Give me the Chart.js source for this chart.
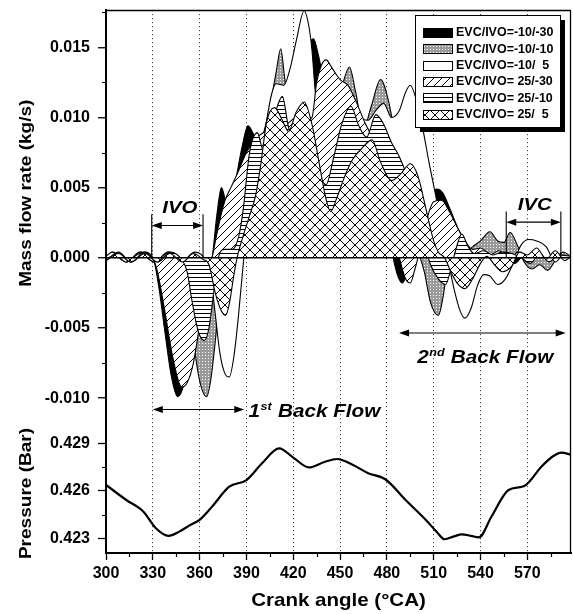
<!DOCTYPE html>
<html>
<head>
<meta charset="utf-8">
<title>Intake mass flow rate and pressure vs crank angle</title>
<script src="https://cdn.jsdelivr.net/npm/chart.js@4.4.1/dist/chart.umd.min.js"></script>
<style>
  html, body { margin: 0; padding: 0; background: #fff; }
  canvas { display: block; }
</style>
</head>
<body>
<canvas id="chart" width="573" height="614"></canvas>
<script>
// ---- series names (valve timing cases) ----
const caseLabels = ['EVC/IVO=-10/-30', 'EVC/IVO=-10/-10', 'EVC/IVO=-10/  5',
                    'EVC/IVO= 25/-30', 'EVC/IVO= 25/-10', 'EVC/IVO= 25/  5'];

// ---- intake mass flow rate (kg/s) against crank angle (deg CA) ----
const angleM10M30 = [300, 304, 313, 322, 330, 334, 338, 342, 346, 350, 355, 360, 364, 368, 371, 374, 378, 383, 387, 391,
  396, 402, 408, 414, 420, 426, 430, 433, 436, 440, 446, 453, 460, 467, 474, 480, 484, 487, 490, 493,
  497, 502, 507, 512, 516, 520, 526, 532, 538, 544, 550, 556, 562, 568, 574, 580, 586, 592, 598];
const flowM10M30 = [0.0000, 0.0004, -0.0003, 0.0004, 0.0000, -0.0022, -0.0055, -0.0085, -0.0099, -0.0090,
  -0.0060, -0.0030, -0.0012, 0.0000, 0.0030, 0.0050, 0.0036, 0.0055, 0.0078, 0.0094,
  0.0086, 0.0085, 0.0105, 0.0108, 0.0112, 0.0138, 0.0152, 0.0156, 0.0145, 0.0125,
  0.0118, 0.0110, 0.0095, 0.0075, 0.0050, 0.0022, 0.0000, -0.0013, -0.0018, -0.0011,
  0.0000, 0.0028, 0.0044, 0.0049, 0.0046, 0.0036, 0.0020, 0.0008, 0.0000, 0.0004,
  -0.0002, 0.0003, -0.0004, 0.0002, -0.0003, 0.0004, -0.0002, 0.0003, 0.0000];

const angleM10M10 = [300, 304, 313, 322, 331, 340, 348, 352, 355, 358, 361, 364.5, 367, 370, 373, 377, 382, 388, 394, 400,
  405, 409, 412, 414.5, 417, 424, 430, 436, 442, 448, 452, 456, 460, 465, 470, 476, 481, 486, 491, 496,
  500, 504, 508, 513, 516, 519, 523, 527, 531, 535, 540, 546, 551, 555, 559, 564, 568, 573, 578, 583,
  588, 593, 598];
const flowM10M10 = [-0.0001, 0.0003, -0.0003, 0.0004, -0.0003, 0.0004, -0.0002, -0.0015, -0.0045, -0.0075,
  -0.0092, -0.0099, -0.0088, -0.0060, -0.0025, 0.0005, 0.0030, 0.0052, 0.0070, 0.0085,
  0.0108, 0.0132, 0.0149, 0.0128, 0.0110, 0.0108, 0.0115, 0.0108, 0.0098, 0.0108,
  0.0125, 0.0136, 0.0118, 0.0092, 0.0108, 0.0127, 0.0112, 0.0082, 0.0050, 0.0022,
  0.0005, -0.0010, -0.0032, -0.0041, -0.0028, -0.0005, 0.0006, 0.0008, 0.0004, 0.0008,
  0.0012, 0.00185, 0.0012, 0.0011, 0.0018, 0.0008, -0.0003, -0.0008, -0.0005, -0.0009,
  -0.0002, 0.0004, 0.0001];

const angleM10P5 = [300, 304, 313, 322, 331, 340, 348, 357, 364, 367, 370, 373, 376, 379, 382, 385, 388, 392, 396, 401.5,
  406, 409, 414, 418, 422, 427, 430, 432, 434, 437, 441, 445, 449, 453, 458, 463, 468, 473, 478, 483,
  488, 492, 495, 499, 503, 507, 511, 515, 519, 523, 527, 530, 534, 538, 542, 546, 551, 556, 561, 566,
  571, 576, 582, 588, 593, 598];
const flowM10P5 = [0.0001, 0.0004, -0.0003, 0.0003, -0.0003, 0.0004, -0.0003, 0.0004, -0.0002, -0.0012,
  -0.0040, -0.0068, -0.0082, -0.0085, -0.0070, -0.0040, -0.0004, 0.0035, 0.0065, 0.0089,
  0.0116, 0.0124, 0.0123, 0.0135, 0.0155, 0.0176, 0.0165, 0.0148, 0.0120, 0.0095,
  0.0085, 0.0080, 0.0085, 0.0098, 0.0110, 0.0100, 0.0098, 0.0105, 0.0110, 0.0100,
  0.0105, 0.0118, 0.0123, 0.0112, 0.0092, 0.0068, 0.0046, 0.0022, 0.0000, -0.0022,
  -0.0038, -0.0043, -0.0036, -0.0020, -0.0012, -0.0013, -0.0019, -0.0015, -0.0004, 0.0009,
  0.0013, 0.0012, 0.0008, -0.0003, 0.0002, 0.0000];

const angleP25M30 = [300, 308, 316, 325, 330, 333, 338, 343, 348.5, 352, 356, 360, 364, 368, 372, 376, 380, 385, 390, 396,
  402, 408, 415, 422, 428, 432, 435, 438, 441, 445, 450, 455, 460, 466, 472, 478, 484, 488, 492, 495,
  498, 501, 505, 510, 515, 520, 525, 530, 535, 540, 546, 552, 558, 564, 570, 576, 582, 588, 594, 598];
const flowP25M30 = [-0.0002, 0.0004, -0.0003, 0.0004, 0.0000, -0.0010, -0.0040, -0.0072, -0.0092, -0.0089,
  -0.0075, -0.0048, -0.0022, 0.0000, 0.0022, 0.0040, 0.0050, 0.0062, 0.0075, 0.0085,
  0.0090, 0.0095, 0.0095, 0.0100, 0.0098, 0.0100, 0.0125, 0.0137, 0.0141, 0.0135,
  0.0127, 0.0123, 0.0112, 0.0096, 0.0082, 0.0055, 0.0020, 0.0000, -0.0015, -0.0018,
  -0.0008, 0.0005, 0.0025, 0.0040, 0.0041, 0.0033, 0.0022, 0.0012, 0.0006, 0.0007,
  0.0002, 0.0005, -0.0002, 0.0004, -0.0003, 0.0005, -0.0001, 0.0004, 0.0000, 0.0002];

const angleP25M10 = [300, 308, 316, 325, 333, 341, 349, 352, 355, 359, 363, 366, 369, 372, 376, 381, 385, 388, 392, 397,
  401, 405, 409, 413, 417, 421, 425, 430, 436, 441, 446, 451, 457, 462, 467, 473, 478, 483, 488, 493,
  498, 503, 508, 513, 517.6, 521, 524, 528, 532, 536, 542, 548, 554, 560, 566, 572, 578, 584, 590, 598];
const flowP25M10 = [-0.0001, 0.0003, -0.0003, 0.0004, -0.0003, 0.0004, -0.0002, -0.0010, -0.0030, -0.0052,
  -0.0059, -0.0050, -0.0025, 0.0000, 0.0006, 0.0006, 0.0015, 0.0035, 0.0075, 0.0089,
  0.0076, 0.0085, 0.0105, 0.0115, 0.0093, 0.0085, 0.0100, 0.0090, 0.0062, 0.0052,
  0.0072, 0.0095, 0.0108, 0.0094, 0.0086, 0.0102, 0.0095, 0.0082, 0.0072, 0.0058,
  0.0040, 0.0015, -0.0005, -0.0015, -0.0019, -0.0008, 0.0005, 0.0017, 0.0008, 0.0003,
  0.0005, 0.0002, 0.0004, 0.0003, 0.0000, -0.0004, 0.0003, -0.0003, 0.0002, 0.0001];

const angleP25P5 = [300, 308, 316, 325, 333, 341, 349, 356, 362, 366, 370, 374, 376.6, 379, 382, 384, 388, 392, 396, 399,
  403, 408, 413, 417, 422, 427, 432, 437, 441, 444, 448, 453, 458, 464, 470.5, 476, 483, 489, 495, 500,
  505, 510, 513, 517, 521, 525, 530, 535, 540, 544, 549, 554, 560, 565, 570, 576, 582, 588, 594, 598];
const flowP25P5 = [-0.0002, 0.0003, -0.0003, 0.0003, -0.0003, 0.0003, -0.0003, 0.0003, -0.0001, -0.0005,
  -0.0025, -0.0038, -0.0041, -0.0033, -0.0012, 0.0000, 0.0016, 0.0030, 0.0045, 0.0065,
  0.0097, 0.0107, 0.0098, 0.0090, 0.0104, 0.0111, 0.0095, 0.0065, 0.0042, 0.0033,
  0.0043, 0.0058, 0.0070, 0.0078, 0.0084, 0.0068, 0.0055, 0.0060, 0.0067, 0.0058,
  0.0035, 0.0012, 0.0004, 0.0000, -0.0010, -0.0018, -0.0022, -0.0015, -0.0004, 0.0001,
  -0.0005, -0.0010, -0.0006, 0.0004, 0.0002, 0.0007, -0.0001, 0.0005, -0.0002, 0.0001];

// ---- intake pressure (bar) ----
const pressureAngle = [300, 313, 324, 332, 340, 347, 354, 360, 368, 379, 390, 400, 411, 420, 430, 440, 448, 458, 468, 479,
  492, 505, 512, 517, 523, 528, 534, 539, 547, 558, 568, 579, 586, 592, 598];
const pressureBar = [0.42637, 0.42542, 0.42468, 0.42363, 0.42315, 0.42342, 0.42384, 0.42416, 0.42500, 0.42626,
  0.42668, 0.42774, 0.42868, 0.42810, 0.42748, 0.42782, 0.42801, 0.42765, 0.42711, 0.42673,
  0.42542, 0.42416, 0.42340, 0.42294, 0.42312, 0.42325, 0.42315, 0.42306, 0.42436, 0.42605,
  0.42630, 0.42752, 0.42815, 0.42841, 0.42828];

// ---- axis ranges ----
const angleRange = [300, 598];
const flowRange = [-0.011417, 0.017657];
const pressureRange = [0.42207, 0.4306];
const flowMinorTicks = [-0.0075, -0.0025, 0.0025, 0.0075, 0.0125, 0.0175];
const pressureMinorTicks = [0.4245, 0.4275];

const FONT = '"Liberation Sans", Arial, Helvetica, sans-serif';
const canvas = document.getElementById('chart');
const ctx2d = canvas.getContext('2d');

// hatch / stipple fills
function tile(size, paint) {
  const c = document.createElement('canvas');
  c.width = size; c.height = size;
  const g = c.getContext('2d');
  g.fillStyle = '#fff'; g.fillRect(0, 0, size, size);
  g.strokeStyle = '#000'; g.fillStyle = '#000'; g.lineWidth = 1;
  paint(g, size);
  return ctx2d.createPattern(c, 'repeat');
}
const fills = [
  '#000',
  tile(3, g => { g.fillStyle = '#9a9a9a'; g.fillRect(0, 0, 3, 3); g.fillStyle = '#fff'; g.fillRect(1, 1, 1, 1); }),
  '#fff',
  tile(8, (g, s) => {
    g.beginPath();
    g.moveTo(-1, s + 1); g.lineTo(s + 1, -1);
    g.moveTo(-1, 1); g.lineTo(1, -1);
    g.moveTo(s - 1, s + 1); g.lineTo(s + 1, s - 1);
    g.stroke();
  }),
  tile(4, g => { g.fillRect(0, 1, 4, 1); }),
  tile(10, (g, s) => {
    g.beginPath();
    g.moveTo(0, 0); g.lineTo(s, s);
    g.moveTo(0, s); g.lineTo(s, 0);
    g.stroke();
  })
];

const cases = [
  [angleM10M30, flowM10M30], [angleM10M10, flowM10M10], [angleM10P5, flowM10P5],
  [angleP25M30, flowP25M30], [angleP25M10, flowP25M10], [angleP25P5, flowP25P5]
];

const datasets = cases.map(([deg, flow], i) => ({
  label: caseLabels[i],
  data: deg.map((d, k) => ({ x: d, y: flow[k] })),
  xAxisID: 'x',
  yAxisID: 'y',
  borderColor: '#000',
  borderWidth: 1.1,
  backgroundColor: fills[i],
  fill: 'origin',
  pointRadius: 0,
  cubicInterpolationMode: 'monotone',
  order: 10 - i
}));
datasets.push({
  label: 'Pressure',
  data: pressureAngle.map((d, k) => ({ x: d, y: pressureBar[k] })),
  xAxisID: 'x',
  yAxisID: 'yP',
  borderColor: '#000',
  borderWidth: 2.2,
  pointRadius: 0,
  fill: false,
  cubicInterpolationMode: 'monotone',
  order: 0
});

const tickFont = { family: FONT, size: 16, weight: 'bold' };
const fmt3 = v => (Math.abs(v) < 1e-9 ? '0.000' : Number(v).toFixed(3));

// text squeezed/stretched along its baseline
function stretchText(ctx, text, x, y, font, sx, align) {
  ctx.save();
  ctx.font = font;
  ctx.textAlign = 'left';
  const w = ctx.measureText(text).width * sx;
  const x0 = align === 'center' ? x - w / 2 : align === 'right' ? x - w : x;
  ctx.translate(x0, y);
  ctx.scale(sx, 1);
  ctx.fillText(text, 0, 0);
  ctx.restore();
  return w;
}

function doubleArrow(ctx, x1, x2, y) {
  ctx.beginPath();
  ctx.moveTo(x1 + 3, y); ctx.lineTo(x2 - 3, y);
  ctx.stroke();
  [[x1, 1], [x2, -1]].forEach(([x, dir]) => {
    ctx.beginPath();
    ctx.moveTo(x, y);
    ctx.lineTo(x + dir * 10, y - 3.5);
    ctx.lineTo(x + dir * 10, y + 3.5);
    ctx.closePath();
    ctx.fill();
  });
}

// vertical scales: no extra room for half tick labels above/below the panels
const fixVertical = s => { s.width = 106; s.paddingTop = 0; s.paddingBottom = 0; };

const decorations = {
  id: 'decorations',
  afterDraw(chart) {
    const { ctx, chartArea: a, scales } = chart;
    const X = v => scales.x.getPixelForValue(v);
    const Y = v => scales.y.getPixelForValue(v);
    const P = v => scales.yP.getPixelForValue(v);
    ctx.save();
    ctx.fillStyle = '#000';
    ctx.strokeStyle = '#000';

    // frame: top and right edges
    ctx.lineWidth = 1.3;
    ctx.beginPath();
    ctx.moveTo(a.left, a.top + 0.5);
    ctx.lineTo(a.right - 0.5, a.top + 0.5);
    ctx.lineTo(a.right - 0.5, a.bottom);
    ctx.stroke();

    // minor ticks
    ctx.lineWidth = 1.2;
    ctx.beginPath();
    for (let d = 315; d < angleRange[1]; d += 30) {
      const px = Math.round(X(d)) + 0.5;
      ctx.moveTo(px, a.bottom); ctx.lineTo(px, a.bottom + 4);
    }
    flowMinorTicks.forEach(v => { const py = Math.round(Y(v)) + 0.5; ctx.moveTo(a.left - 4, py); ctx.lineTo(a.left, py); });
    pressureMinorTicks.forEach(v => { const py = Math.round(P(v)) + 0.5; ctx.moveTo(a.left - 4, py); ctx.lineTo(a.left, py); });
    ctx.stroke();

    // valve event markers
    ctx.lineWidth = 1.1;
    ctx.beginPath();
    [329.3, 362.2].forEach(d => { ctx.moveTo(X(d), Y(0.0031)); ctx.lineTo(X(d), Y(0)); });
    [556.5, 591.5].forEach(d => { ctx.moveTo(X(d), Y(0.0033)); ctx.lineTo(X(d), Y(0)); });
    ctx.stroke();
    doubleArrow(ctx, X(329.3), X(362.2), Y(0.0023));
    doubleArrow(ctx, X(556.5), X(591.5), Y(0.00254));
    doubleArrow(ctx, X(330), X(388.6), Y(-0.01081));
    doubleArrow(ctx, X(487.8), X(594.6), Y(-0.00536));

    const ital = s => `italic bold ${s}px ${FONT}`;
    ctx.textBaseline = 'alphabetic';
    stretchText(ctx, 'IVO', X(347.3), Y(0.00316), ital(17), 1.2, 'center');
    stretchText(ctx, 'IVC', X(574.8), Y(0.0034), ital(17), 1.2, 'center');

    function backFlow(x, y, num, sup) {
      let w = stretchText(ctx, num, x, y, ital(18), 1.15);
      w += stretchText(ctx, sup, x + w + 0.5, y - 7, ital(11), 1.15);
      stretchText(ctx, ' Back Flow', x + w + 1, y, ital(18), 1.15);
    }
    backFlow(X(391.3), Y(-0.011325), '1', 'st');
    backFlow(X(499.4), Y(-0.00752), '2', 'nd');

    // axis titles
    ctx.textBaseline = 'middle';
    const bold = s => `bold ${s}px ${FONT}`;
    stretchText(ctx, 'Crank angle (°CA)', (a.left + a.right) / 2, 601, bold(19), 1.08, 'center');
    [['Mass flow rate (kg/s)', Y(0.0046)], ['Pressure (Bar)', P(0.42583)]].forEach(([t, cy]) => {
      ctx.save();
      ctx.translate(26, cy);
      ctx.rotate(-Math.PI / 2);
      stretchText(ctx, t, 0, 0, bold(17), 1.12, 'center');
      ctx.restore();
    });

    // legend with drop shadow
    const lx = 415, ly = 15, lw = 145, lh = 112;
    ctx.fillStyle = '#000';
    ctx.fillRect(lx + 5, ly + 5, lw, lh);
    ctx.fillStyle = '#fff';
    ctx.fillRect(lx, ly, lw, lh);
    ctx.lineWidth = 1;
    ctx.strokeRect(lx + 0.5, ly + 0.5, lw, lh);
    chart.data.datasets.slice(0, 6).forEach((ds, i) => {
      const cy = ly + 17.5 + i * 16.3;
      ctx.fillStyle = ds.backgroundColor;
      ctx.fillRect(lx + 8, Math.round(cy - 4.5), 29, 9);
      ctx.strokeStyle = '#000';
      ctx.strokeRect(lx + 8.5, Math.round(cy - 4.5) + 0.5, 29, 9);
      ctx.fillStyle = '#000';
      ctx.textBaseline = 'middle';
      stretchText(ctx, ds.label, lx + 41, cy + 0.5, bold(12), 1.04);
    });
    ctx.restore();
  }
};

new Chart(canvas, {
  type: 'line',
  data: { datasets },
  plugins: [decorations],
  options: {
    responsive: false,
    animation: false,
    events: [],
    layout: { padding: { top: 10, right: 2, left: 0, bottom: 0 } },
    plugins: { legend: { display: false }, tooltip: { enabled: false } },
    scales: {
      x: {
        type: 'linear',
        position: 'bottom',
        min: angleRange[0],
        max: angleRange[1],
        afterFit: s => { s.height = 61; s.paddingLeft = 0; s.paddingRight = 0; },
        ticks: { stepSize: 30, includeBounds: false, autoSkip: false, maxRotation: 0,
                 font: tickFont, color: '#000', padding: 4, callback: v => String(v) },
        grid: { color: c => (c.tick && c.tick.value > angleRange[0] ? '#4a4a4a' : 'rgba(0,0,0,0)'),
                lineWidth: 1, tickColor: '#000', tickLength: 7, tickWidth: 1.3 },
        border: { display: true, color: '#000', width: 2, dash: [1.2, 2.8], z: 1 }
      },
      yP: {
        type: 'linear',
        position: 'left',
        stack: 'panels',
        stackWeight: 135,
        min: pressureRange[0],
        max: pressureRange[1],
        afterFit: fixVertical,
        ticks: { stepSize: 0.003, includeBounds: false, font: tickFont, color: '#000', padding: 8, callback: fmt3 },
        grid: { color: 'rgba(0,0,0,0)', tickColor: '#000', tickLength: 8, tickWidth: 1.3 },
        border: { display: true, color: '#000', width: 2, z: 1 }
      },
      y: {
        type: 'linear',
        position: 'left',
        stack: 'panels',
        stackWeight: 408,
        min: flowRange[0],
        max: flowRange[1],
        afterFit: fixVertical,
        ticks: { stepSize: 0.005, includeBounds: false, font: tickFont, color: '#000', padding: 8, callback: fmt3 },
        grid: { color: c => (c.tick && Math.abs(c.tick.value) < 1e-9 ? '#000' : 'rgba(0,0,0,0)'),
                lineWidth: 1.5, z: 1, tickColor: '#000', tickLength: 8, tickWidth: 1.3 },
        border: { display: true, color: '#000', width: 2, z: 1 }
      }
    }
  }
});
</script>
</body>
</html>
